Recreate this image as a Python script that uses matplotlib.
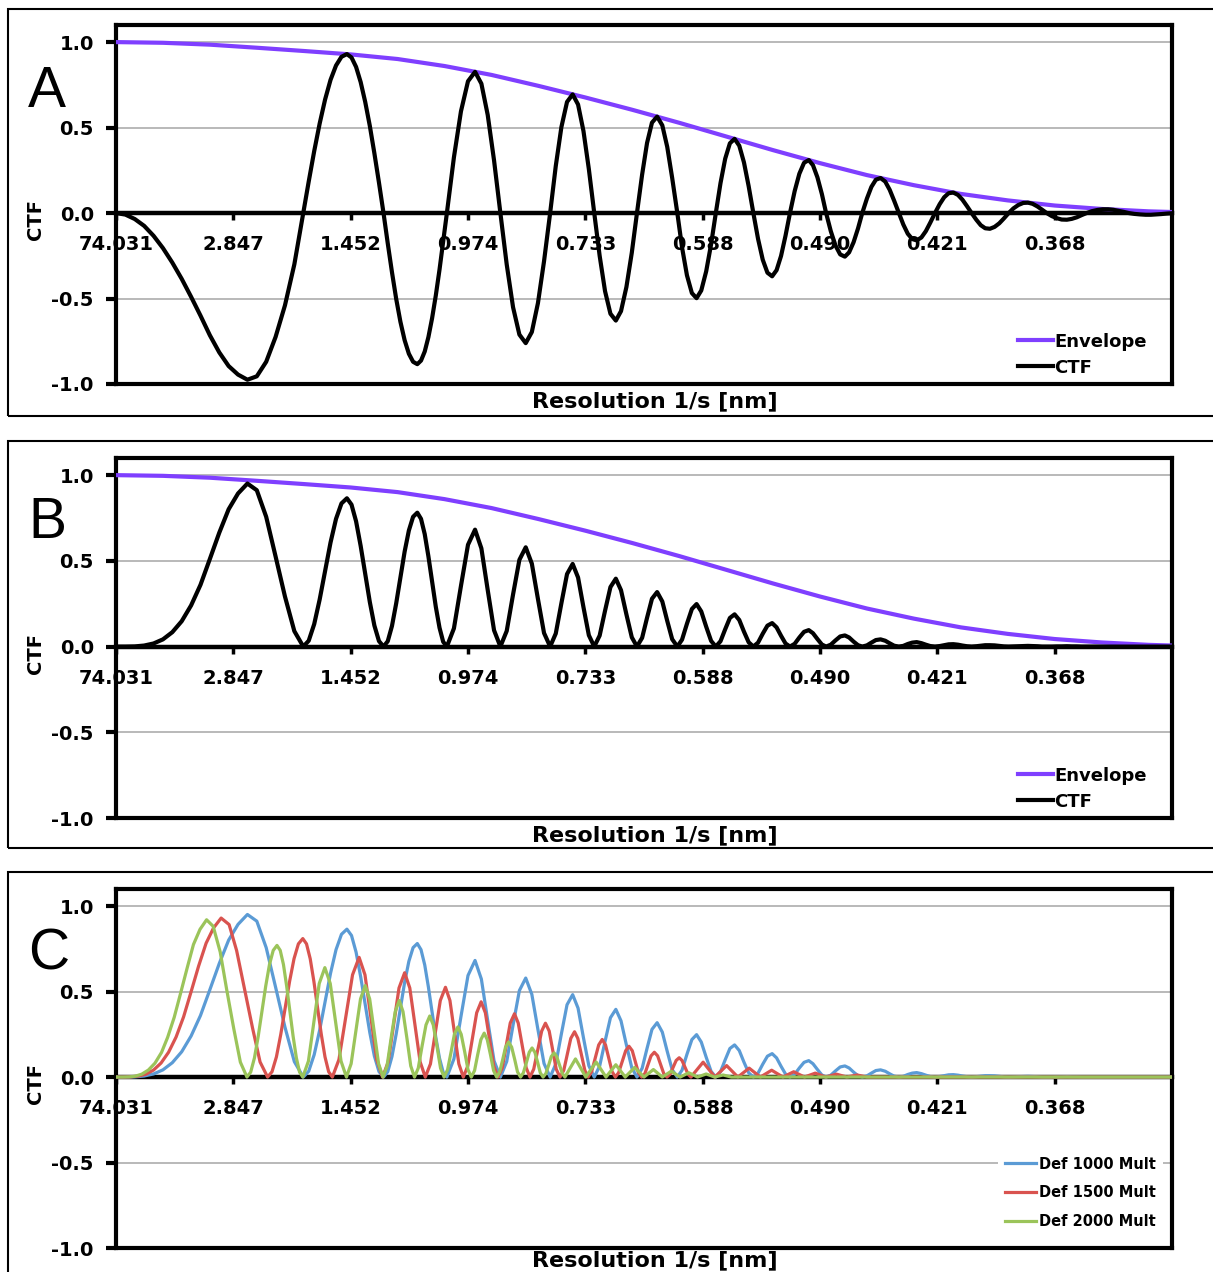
import numpy as np
import matplotlib
matplotlib.use("Agg")
import matplotlib.pyplot as plt
from matplotlib.patches import Rectangle
from matplotlib.transforms import blended_transform_factory

# x axis: sample index of the spatial-frequency table, labels every 25 samples
res_labels = ['74.031', '2.847', '1.452', '0.974', '0.733', '0.588', '0.490', '0.421', '0.368']
label_step = 25
n_max = 225

y_ticks = [-1.0, -0.5, 0.0, 0.5, 1.0]
y_labels = ['-1.0', '-0.5', '0.0', '0.5', '1.0']

# envelope (same in A and B)
env_idx = [0, 10, 20, 30, 40, 50, 60, 70, 80, 90, 100, 110, 120, 130, 140, 150,
           160, 170, 180, 190, 200, 210, 220, 225]
env_val = [1.000, 0.996, 0.985, 0.967, 0.948, 0.928, 0.901, 0.860, 0.808, 0.744,
           0.676, 0.604, 0.528, 0.448, 0.368, 0.292, 0.222, 0.163, 0.112, 0.074,
           0.044, 0.024, 0.010, 0.006]

# CTF, defocus 1000 (panel A) and its square (panel B, blue curve in C)
ctf_idx = [0, 2, 4, 6, 8, 10, 12, 14, 16, 18, 20, 22, 24, 26, 28, 30, 32, 34, 36, 38,
           39.9, 41.06, 42.23, 43.39, 44.55, 45.71, 46.88, 48.04, 49.2,
           50.18, 51.15, 52.13, 53.1, 54.08, 55.05, 56.03,
           57.0, 57.9, 58.8, 59.7, 60.6, 61.5, 62.4, 63.3, 64.2,
           64.99, 65.78, 66.56, 67.35, 68.14, 68.93, 69.71,
           70.5, 72.0, 73.5, 75.0, 76.5, 77.85, 79.2, 80.55,
           81.9, 83.25, 84.6, 85.95, 87.3, 88.6, 89.9, 91.2,
           92.5, 93.7, 94.9, 96.1, 97.3, 98.45, 99.6, 100.75,
           101.9, 103.05, 104.2, 105.35, 106.5, 107.6, 108.75, 109.9,
           111.0, 112.1, 113.15, 114.2, 115.3, 116.4, 117.45, 118.5,
           119.6, 120.6, 121.65, 122.7, 123.7, 124.7, 125.75, 126.8,
           127.8, 128.8, 129.8, 130.8, 131.8, 132.8, 133.8, 134.8,
           135.8, 136.8, 137.8, 138.8, 139.8, 140.75, 141.7, 142.65,
           143.6, 144.6, 145.6, 146.6, 147.6, 148.5, 149.45, 150.4,
           151.3, 152.3, 153.3, 154.3, 155.3, 156.2, 157.15, 158.1,
           159.0, 160.0, 160.95, 161.9, 162.9, 163.9, 164.85, 165.8,
           166.8, 167.75, 168.7, 169.65, 170.6, 171.6, 172.55, 173.5,
           174.5, 175.5, 176.45, 177.4, 178.4, 179.4, 180.35, 181.3,
           182.3, 183.3, 184.25, 185.2, 186.2, 187.2, 188.2, 189.2,
           190.2, 191.2, 192.25, 193.3, 194.3, 195.3, 196.3, 197.3,
           198.3, 199.4, 200.45, 201.5, 202.6, 203.65, 204.7, 205.75,
           206.8, 207.95, 209.1, 210.25, 211.4, 212.5, 213.6, 214.7,
           215.8, 217.0, 218.2, 219.4, 220.5, 221.6, 222.7, 223.9, 225.0]
ctf_val = [0, -0.009, -0.035, -0.075, -0.133, -0.205, -0.29, -0.385, -0.49, -0.60,
           -0.715, -0.815, -0.895, -0.945, -0.975, -0.955, -0.87, -0.725, -0.54, -0.30,
           0, 0.184, 0.362, 0.523, 0.664, 0.779, 0.863, 0.914, 0.930,
           0.910, 0.855, 0.766, 0.650, 0.510, 0.350, 0.178,
           0, -0.177, -0.346, -0.502, -0.636, -0.744, -0.823, -0.870, -0.884,
           -0.863, -0.810, -0.726, -0.615, -0.482, -0.331, -0.168,
           0, 0.326, 0.595, 0.771, 0.826, 0.757, 0.574, 0.308,
           0, -0.301, -0.551, -0.711, -0.761, -0.696, -0.527, -0.282,
           0, 0.275, 0.503, 0.650, 0.694, 0.635, 0.480, 0.257,
           0, -0.250, -0.457, -0.589, -0.629, -0.574, -0.433, -0.232,
           0, 0.225, 0.410, 0.529, 0.564, 0.513, 0.387, 0.206,
           0, -0.200, -0.364, -0.468, -0.498, -0.453, -0.341, -0.182,
           0, 0.175, 0.318, 0.408, 0.434, 0.394, 0.296, 0.157,
           0, -0.151, -0.273, -0.349, -0.370, -0.334, -0.251, -0.133,
           0, 0.128, 0.230, 0.294, 0.310, 0.280, 0.209, 0.111,
           0, -0.106, -0.190, -0.242, -0.255, -0.230, -0.171, -0.090,
           0, 0.085, 0.153, 0.195, 0.205, 0.184, 0.136, 0.072,
           0, -0.067, -0.121, -0.152, -0.160, -0.143, -0.106, -0.056,
           0, 0.052, 0.092, 0.116, 0.120, 0.106, 0.078, 0.041,
           0, -0.039, -0.071, -0.089, -0.092, -0.081, -0.060, -0.031,
           0, 0.027, 0.047, 0.059, 0.061, 0.054, 0.039, 0.020,
           0, -0.018, -0.030, -0.038, -0.039, -0.034, -0.025, -0.012,
           0, 0.011, 0.018, 0.022, 0.022, 0.019, 0.013, 0.007,
           0, -0.005, -0.008, -0.010, -0.010, -0.008, -0.006, -0.003, -0.001]
ctf_sq = [0, 0.000, 0.001, 0.006, 0.018, 0.042, 0.084, 0.148, 0.240, 0.360,
          0.511, 0.664, 0.801, 0.893, 0.951, 0.912, 0.757, 0.526, 0.292, 0.090,
          0, 0.034, 0.131, 0.274, 0.441, 0.607, 0.745, 0.835, 0.865,
          0.828, 0.731, 0.587, 0.423, 0.260, 0.123, 0.032,
          0, 0.031, 0.120, 0.252, 0.404, 0.554, 0.677, 0.757, 0.781,
          0.745, 0.656, 0.527, 0.378, 0.232, 0.110, 0.028,
          0, 0.106, 0.354, 0.594, 0.682, 0.573, 0.330, 0.095,
          0, 0.091, 0.304, 0.506, 0.579, 0.484, 0.278, 0.079,
          0, 0.076, 0.253, 0.423, 0.482, 0.403, 0.230, 0.066,
          0, 0.064, 0.209, 0.347, 0.396, 0.329, 0.188, 0.054,
          0, 0.051, 0.168, 0.279, 0.318, 0.263, 0.150, 0.043,
          0, 0.040, 0.133, 0.219, 0.248, 0.205, 0.116, 0.033,
          0, 0.031, 0.101, 0.167, 0.188, 0.155, 0.087, 0.025,
          0, 0.023, 0.075, 0.122, 0.137, 0.112, 0.063, 0.018,
          0, 0.016, 0.053, 0.086, 0.096, 0.078, 0.044, 0.012,
          0, 0.011, 0.036, 0.059, 0.065, 0.053, 0.029, 0.008,
          0, 0.007, 0.023, 0.038, 0.042, 0.034, 0.019, 0.005,
          0, 0.004, 0.015, 0.023, 0.026, 0.020, 0.011, 0.003,
          0, 0.003, 0.008, 0.013, 0.014, 0.011, 0.006, 0.002,
          0, 0.002, 0.005, 0.008, 0.008, 0.007, 0.004, 0.001,
          0, 0.001, 0.002, 0.003, 0.004, 0.003, 0.002, 0.000,
          0, 0.000, 0.001, 0.001, 0.002, 0.001, 0.001, 0.000,
          0, 0, 0, 0, 0, 0, 0, 0,
          0, 0, 0, 0, 0, 0, 0, 0, 0]

# panel C, defocus 1500 (squared CTF times envelope)
red_idx = [0, 1.6, 3.2, 4.8, 6.4, 8.0, 9.6, 11.2, 12.8, 14.4, 16.0, 17.6, 19.2, 20.8,
           22.4, 24.1, 25.7, 27.4, 29.1, 30.7,
           32.3, 33.24, 34.18, 35.11, 36.05, 36.99, 37.93, 38.86, 39.8,
           40.59, 41.38, 42.16, 42.95, 43.74, 44.53, 45.31,
           46.1, 47.5, 48.95, 50.4, 51.8, 53.05, 54.3, 55.55,
           56.8, 58.0, 59.15, 60.3, 61.5, 62.6, 63.7, 64.8,
           65.9, 67.0, 68.05, 69.1, 70.2, 71.15, 72.1, 73.05,
           74.0, 74.95, 75.9, 76.85, 77.8, 78.7, 79.6, 80.5,
           81.4, 82.3, 83.15, 84.0, 84.9, 85.7, 86.55, 87.4,
           88.2, 89.0, 89.85, 90.7, 91.5, 92.3, 93.05, 93.8,
           94.6, 95.4, 96.15, 96.9, 97.7, 98.4, 99.15, 99.9,
           100.6, 101.35, 102.1, 102.85, 103.6, 104.3, 105.0, 105.7,
           106.4, 107.1, 107.85, 108.6, 109.3, 110.0, 110.65, 111.3,
           112.0, 112.7, 113.35, 114.0, 114.7, 115.4, 116.05, 116.7,
           117.4, 118.05, 118.7, 119.35, 120.0, 120.6, 121.25, 121.9,
           122.5, 125.1, 127.6, 130.1, 132.5, 134.9, 137.3, 139.7, 142.1,
           144.4, 146.7, 149.0, 151.2, 153.5, 155.7, 157.9, 160.0, 225.0]
red_val = [0, 0.000, 0.001, 0.006, 0.017, 0.041, 0.082, 0.145, 0.234, 0.352, 0.499,
           0.649, 0.783, 0.873, 0.930, 0.892, 0.740, 0.514, 0.286, 0.088,
           0, 0.031, 0.118, 0.250, 0.405, 0.560, 0.692, 0.779, 0.810,
           0.779, 0.692, 0.560, 0.405, 0.250, 0.118, 0.031,
           0, 0.102, 0.350, 0.598, 0.700, 0.598, 0.350, 0.102,
           0, 0.089, 0.305, 0.521, 0.610, 0.521, 0.305, 0.089,
           0, 0.077, 0.263, 0.448, 0.525, 0.448, 0.263, 0.077,
           0, 0.064, 0.220, 0.376, 0.440, 0.376, 0.220, 0.064,
           0, 0.054, 0.185, 0.316, 0.370, 0.316, 0.185, 0.054,
           0, 0.046, 0.158, 0.269, 0.315, 0.269, 0.158, 0.046,
           0, 0.039, 0.133, 0.226, 0.265, 0.226, 0.133, 0.039,
           0, 0.032, 0.110, 0.188, 0.220, 0.188, 0.110, 0.032,
           0, 0.026, 0.090, 0.154, 0.180, 0.154, 0.090, 0.026,
           0, 0.021, 0.073, 0.124, 0.145, 0.124, 0.073, 0.021,
           0, 0.016, 0.057, 0.097, 0.113, 0.097, 0.057, 0.016,
           0, 0.087, 0, 0.067, 0, 0.052, 0, 0.040, 0,
           0.031, 0, 0.023, 0, 0.017, 0, 0.012, 0, 0]

# panel C, defocus 2000
green_idx = [0, 1.4, 2.8, 4.1, 5.5, 6.9, 8.3, 9.7, 11.0, 12.4, 13.8, 15.2, 16.5, 17.9,
             19.3, 20.7, 22.2, 23.6, 25.1, 26.5,
             27.9, 28.7, 29.5, 30.3, 31.1, 31.9, 32.7, 33.5, 34.3,
             34.99, 35.68, 36.36, 37.05, 37.74, 38.43, 39.11,
             39.8, 41.0, 42.15, 43.3, 44.5, 45.65, 46.8, 47.95,
             49.1, 50.1, 51.1, 52.1, 53.1, 54.05, 55.0, 55.95,
             56.9, 57.75, 58.6, 59.5, 60.35, 61.15, 62.0, 62.8,
             63.6, 64.4, 65.2, 66.05, 66.85, 67.6, 68.4, 69.15,
             69.9, 70.65, 71.4, 72.1, 72.85, 73.55, 74.3, 75.0,
             75.7, 76.4, 77.05, 77.75, 78.45, 79.1, 79.8, 80.45,
             81.1, 81.75, 82.4, 83.0, 83.65, 84.3, 84.95, 85.55,
             86.2, 86.8, 87.45, 88.05, 88.65, 89.25, 89.85, 90.4,
             91.0, 91.6, 92.2, 92.75, 93.35, 93.9, 94.5, 95.1,
             95.65, 97.9, 100.1, 102.3, 104.4, 106.5, 108.5, 110.5, 112.5, 114.5,
             116.4, 118.3, 120.2, 122.05, 123.9, 125.75, 127.55, 129.35, 131.1, 225.0]
green_val = [0, 0.000, 0.001, 0.005, 0.017, 0.041, 0.081, 0.144, 0.232, 0.349, 0.494,
             0.642, 0.775, 0.864, 0.920, 0.882, 0.732, 0.509, 0.282, 0.087,
             0, 0.029, 0.112, 0.238, 0.385, 0.532, 0.658, 0.741, 0.770,
             0.741, 0.658, 0.532, 0.385, 0.238, 0.112, 0.029,
             0, 0.093, 0.320, 0.547, 0.640, 0.547, 0.320, 0.093,
             0, 0.078, 0.268, 0.457, 0.535, 0.457, 0.268, 0.078,
             0, 0.065, 0.224, 0.383, 0.448, 0.383, 0.224, 0.065,
             0, 0.052, 0.179, 0.305, 0.357, 0.305, 0.179, 0.052,
             0, 0.043, 0.147, 0.250, 0.293, 0.250, 0.147, 0.043,
             0, 0.038, 0.129, 0.219, 0.257, 0.219, 0.129, 0.038,
             0, 0.030, 0.103, 0.175, 0.205, 0.175, 0.103, 0.030,
             0, 0.025, 0.085, 0.145, 0.170, 0.145, 0.085, 0.025,
             0, 0.021, 0.071, 0.120, 0.141, 0.120, 0.071, 0.021,
             0, 0.106, 0, 0.088, 0, 0.072, 0, 0.056, 0, 0.044,
             0, 0.034, 0, 0.025, 0, 0.018, 0, 0.012, 0, 0]

W, H = 1213, 1272
fig = plt.figure(figsize=(W / 100, H / 100), dpi=100)


def px_rect(left, top, right, bottom):
    return [left / W, 1 - bottom / H, (right - left) / W, (bottom - top) / H]


def frame(top, bottom):
    fig.add_artist(Rectangle((7.5 / W, 1 - bottom / H), 1.05 - 7.5 / W, (bottom - top) / H,
                             transform=fig.transFigure, fill=False, ec='k', lw=1.5,
                             clip_on=False))


def setup(ax, letter, letter_base, xlabel_y=-0.048):
    ax.set_xlim(0, n_max)
    ax.set_ylim(-1.0, 1.1)
    for sp in ax.spines.values():
        sp.set_linewidth(3)
        sp.set_color('k')
    ax.spines['bottom'].set_position(('data', 0.0))
    ax.spines['bottom'].set_linewidth(3.2)
    ax.axhline(-1.0, color='k', lw=3, clip_on=False, zorder=2.6)
    ax.set_yticks(y_ticks)
    ax.set_yticklabels(y_labels, fontsize=14, fontweight='bold')
    ax.set_xticks(np.arange(len(res_labels)) * label_step)
    ax.set_xticklabels(res_labels, fontsize=14, fontweight='bold')
    ax.tick_params(axis='y', direction='out', length=7, width=3, pad=9)
    ax.tick_params(axis='x', direction='out', length=5, width=2.5, pad=11)
    ax.grid(axis='y', color='#a6a6a6', lw=1.1)
    ax.set_axisbelow(True)
    tr = blended_transform_factory(ax.transAxes, ax.transData)
    ax.text(-0.076, -0.04, 'CTF', transform=tr, rotation=90, ha='center', va='center',
            fontsize=14, fontweight='bold')
    ax.text(0.51, xlabel_y, 'Resolution 1/s [nm]', transform=ax.transAxes, ha='center',
            va='center', fontsize=16, fontweight='bold', clip_on=False)
    fig.text(28 / W, 1 - letter_base / H, letter, fontsize=41, family='Liberation Sans',
             ha='left', va='baseline')


purple = '#7F3FFF'

# panel A
frame(9, 416)
axA = fig.add_axes(px_rect(116, 25, 1172, 384))
setup(axA, 'A', 107)
axA.plot(env_idx, env_val, color=purple, lw=3, label='Envelope', zorder=3)
axA.plot(ctf_idx, ctf_val, color='k', lw=3, label='CTF', zorder=3)
axA.legend(loc='lower right', bbox_to_anchor=(0.983, 0.0), frameon=False,
           prop={'weight': 'bold', 'size': 13}, handlelength=1.9, handletextpad=0.1,
           labelspacing=0.45, borderaxespad=0)

# panel B
frame(441, 848)
axB = fig.add_axes(px_rect(116, 458, 1172, 818))
setup(axB, 'B', 538)
axB.plot(env_idx, env_val, color=purple, lw=3, label='Envelope', zorder=3)
axB.plot(ctf_idx, ctf_sq, color='k', lw=3, label='CTF', zorder=3)
axB.legend(loc='lower right', bbox_to_anchor=(0.983, 0.0), frameon=False,
           prop={'weight': 'bold', 'size': 13}, handlelength=1.9, handletextpad=0.1,
           labelspacing=0.45, borderaxespad=0)

# panel C
frame(872, 1300)
axC = fig.add_axes(px_rect(116, 889, 1172, 1248))
setup(axC, 'C', 970, xlabel_y=-0.034)
axC.plot(ctf_idx, ctf_sq, color='#5B9BD5', lw=2.3, label='Def 1000 Mult', zorder=3)
axC.plot(red_idx, red_val, color='#D9534F', lw=2.3, label='Def 1500 Mult', zorder=3)
axC.plot(green_idx, green_val, color='#9BC45A', lw=2.3, label='Def 2000 Mult', zorder=3)
axC.legend(loc='lower right', bbox_to_anchor=(0.9915, 0.032), frameon=True,
           facecolor='white', edgecolor='none', framealpha=1, fancybox=False,
           prop={'weight': 'bold', 'size': 10.5}, handlelength=2.1, handletextpad=0.2,
           labelspacing=0.95, borderpad=0.5, borderaxespad=0)

fig.savefig('out.png', dpi=100)
